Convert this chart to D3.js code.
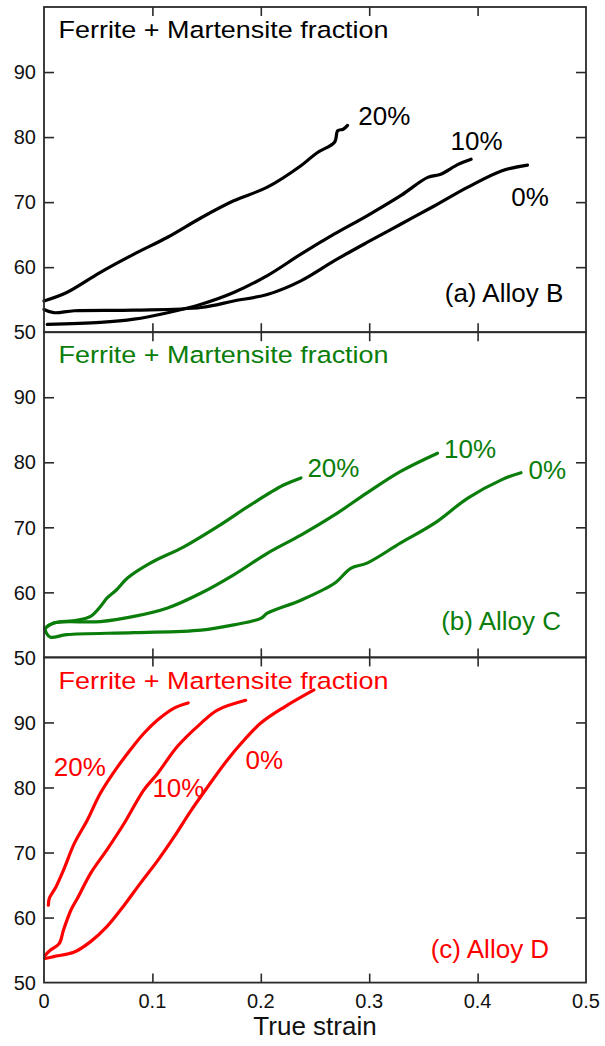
<!DOCTYPE html>
<html><head><meta charset="utf-8">
<script src="https://cdn.jsdelivr.net/npm/d3@7"></script>
<style>body{margin:0;background:#fff}svg{display:block}text{font-family:Arial,"Liberation Sans",sans-serif}</style>
</head><body><svg id="chart" width="605" height="1046"></svg>
<script>
// ---- data ----
const strainTicks = [0, 0.1, 0.2, 0.3, 0.4, 0.5];
const strainTickLabels = ["0", "0.1", "0.2", "0.3", "0.4", "0.5"];
const valueTicks = [50, 60, 70, 80, 90];
const valueTickLabels = ["50", "60", "70", "80", "90"];
const panelNames = ["(a) Alloy B", "(b) Alloy C", "(c) Alloy D"];
const panelTitle = "Ferrite + Martensite fraction";
const fractionLabels = ["0%", "10%", "20%"];
const xTitle = "True strain";

// Alloy B: [strain, value]
const alloyB_0 = [[0.000,53.5],[0.009,53.0],[0.028,53.3],[0.083,53.4],[0.145,53.8],[0.175,54.8],[0.206,55.8],[0.237,57.9],[0.268,61.0],[0.298,63.8],[0.329,66.6],[0.360,69.4],[0.391,72.3],[0.422,74.8],[0.446,75.7]];
const alloyB_10 = [[0.003,51.2],[0.052,51.5],[0.083,52.0],[0.114,53.0],[0.145,54.3],[0.175,56.1],[0.206,58.7],[0.237,62.0],[0.268,65.1],[0.298,67.9],[0.329,71.0],[0.354,73.8],[0.366,74.3],[0.382,75.8],[0.394,76.6]];
const alloyB_20 = [[0.000,54.8],[0.021,56.1],[0.052,59.2],[0.083,62.0],[0.114,64.6],[0.145,67.6],[0.175,70.2],[0.206,72.3],[0.237,75.6],[0.252,77.6],[0.268,79.2],[0.271,81.0],[0.276,81.2],[0.280,81.8]];
// Alloy C
const alloyC_0 = [[0.001,54.5],[0.002,53.8],[0.006,53.1],[0.021,53.5],[0.083,53.8],[0.145,54.2],[0.175,55.0],[0.200,56.0],[0.206,56.8],[0.237,58.8],[0.268,61.4],[0.283,63.7],[0.298,64.5],[0.329,67.6],[0.360,70.6],[0.391,74.5],[0.422,77.3],[0.440,78.4]];
const alloyC_10 = [[0.001,54.5],[0.009,55.3],[0.052,55.5],[0.083,56.3],[0.114,57.6],[0.145,59.9],[0.175,62.7],[0.206,66.0],[0.237,68.8],[0.268,71.9],[0.298,75.3],[0.329,78.6],[0.363,81.4]];
const alloyC_20 = [[0.001,54.5],[0.009,55.3],[0.030,55.7],[0.043,56.3],[0.052,57.8],[0.058,59.1],[0.067,60.4],[0.077,62.2],[0.098,64.5],[0.129,67.0],[0.160,70.1],[0.191,73.5],[0.221,76.5],[0.237,77.6]];
// Alloy D
const alloyD_0 = [[0.001,53.7],[0.009,54.0],[0.028,54.7],[0.043,56.3],[0.058,58.6],[0.074,61.9],[0.089,65.3],[0.105,68.8],[0.120,72.4],[0.135,76.3],[0.151,80.1],[0.169,84.2],[0.182,86.8],[0.200,89.9],[0.222,92.4],[0.249,95.0]];
const alloyD_10 = [[0.001,54.2],[0.006,55.0],[0.014,56.0],[0.018,58.1],[0.025,61.2],[0.031,63.0],[0.043,66.8],[0.058,70.4],[0.074,74.5],[0.092,79.6],[0.105,82.2],[0.123,86.3],[0.145,89.9],[0.160,91.9],[0.186,93.4]];
const alloyD_20 = [[0.004,61.9],[0.005,63.0],[0.011,64.7],[0.018,67.3],[0.028,71.4],[0.040,75.0],[0.052,79.1],[0.068,83.2],[0.083,86.5],[0.092,88.3],[0.105,90.4],[0.120,92.2],[0.133,93.0]];

// label anchors [strain, value]
const labelPosB = [[0.431,69.4],[0.375,78.0],[0.290,81.8]];
const labelPosC = [[0.447,77.5],[0.369,80.6],[0.243,77.8]];
const labelPosD = [[0.186,82.8],[0.100,78.6],[0.009,81.7]];
const namePos = [[0.479,54.6],[0.477,54.2],[0.466,53.8]];
const titlePos = [0.0134, 95.2];

// ---- layout ----
const svg = d3.select("#chart");
const colors = ["#000000", "#0a7d0a", "#ff0000"];
const panels = [
  {series:[alloyB_0, alloyB_10, alloyB_20], labels: labelPosB},
  {series:[alloyC_0, alloyC_10, alloyC_20], labels: labelPosC},
  {series:[alloyD_0, alloyD_10, alloyD_20], labels: labelPosD}
];
const x = d3.scaleLinear().domain([0, 0.5]).range([44, 586]);
const top0 = 7, panelH = 325.2;
const axisColor = "#2a2a2a";

panels.forEach((p, i) => {
  const y0 = top0 + i * panelH;
  const y = d3.scaleLinear().domain([50, 100]).range([y0 + panelH, y0]);
  const g = svg.append("g");
  const col = colors[i];

  // curves
  const line = d3.line().curve(d3.curveCatmullRom.alpha(0.5)).x(d => x(d[0])).y(d => y(d[1]));
  p.series.forEach(s => {
    g.append("path").datum(s).attr("d", line)
      .attr("fill", "none").attr("stroke", col).attr("stroke-width", 3.2)
      .attr("stroke-linejoin", "round").attr("stroke-linecap", "round");
  });

  // axes with inward ticks
  const inner = [0.1, 0.2, 0.3, 0.4];
  g.append("g").attr("transform", `translate(0,${y0 + panelH})`)
    .call(d3.axisTop(x).tickValues(inner).tickSize(9).tickFormat(""));
  g.append("g").attr("transform", `translate(0,${y0})`)
    .call(d3.axisBottom(x).tickValues(inner).tickSize(9).tickFormat(""));
  g.append("g").attr("transform", `translate(${x(0)},0)`)
    .call(d3.axisRight(y).tickValues([60, 70, 80, 90]).tickSize(10).tickFormat(""));
  g.append("g").attr("transform", `translate(${x(0.5)},0)`)
    .call(d3.axisLeft(y).tickValues([60, 70, 80, 90]).tickSize(10).tickFormat(""));
  g.selectAll(".domain").remove();
  g.selectAll(".tick line").attr("stroke", axisColor).attr("stroke-width", 1.6);

  // y tick labels
  g.append("g").selectAll("text").data(valueTicks).join("text")
    .attr("x", x(0) - 8).attr("y", d => y(d)).attr("dy", "0.36em")
    .attr("text-anchor", "end").attr("font-size", 20).attr("fill", "#111")
    .text((d, k) => valueTickLabels[k]);

  // frame
  g.append("rect").attr("x", x(0)).attr("y", y0)
    .attr("width", x(0.5) - x(0)).attr("height", panelH)
    .attr("fill", "none").attr("stroke", axisColor).attr("stroke-width", 1.8);

  // title
  g.append("text").attr("x", x(titlePos[0])).attr("y", y(titlePos[1]))
    .attr("font-size", 24.5).attr("fill", col)
    .attr("textLength", 330).attr("lengthAdjust", "spacingAndGlyphs")
    .text(panelTitle);

  // fraction labels
  p.labels.forEach((lp, k) => {
    g.append("text").attr("x", x(lp[0])).attr("y", y(lp[1]))
      .attr("font-size", 26).attr("fill", col).text(fractionLabels[k]);
  });

  // panel name
  g.append("text").attr("x", x(namePos[i][0])).attr("y", y(namePos[i][1]))
    .attr("text-anchor", "end").attr("font-size", 26).attr("fill", col)
    .text(panelNames[i]);

  // x tick labels on bottom panel
  if (i === panels.length - 1) {
    svg.append("g").selectAll("text").data(strainTicks).join("text")
      .attr("x", d => x(d)).attr("y", 1008)
      .attr("text-anchor", "middle").attr("font-size", 20).attr("fill", "#111")
      .text((d, k) => strainTickLabels[k]);
    svg.append("text").attr("x", (x(0) + x(0.5)) / 2 + 0).attr("y", 1035)
      .attr("text-anchor", "middle").attr("font-size", 26).attr("fill", "#111")
      .text(xTitle);
  }
});
</script></body></html>
